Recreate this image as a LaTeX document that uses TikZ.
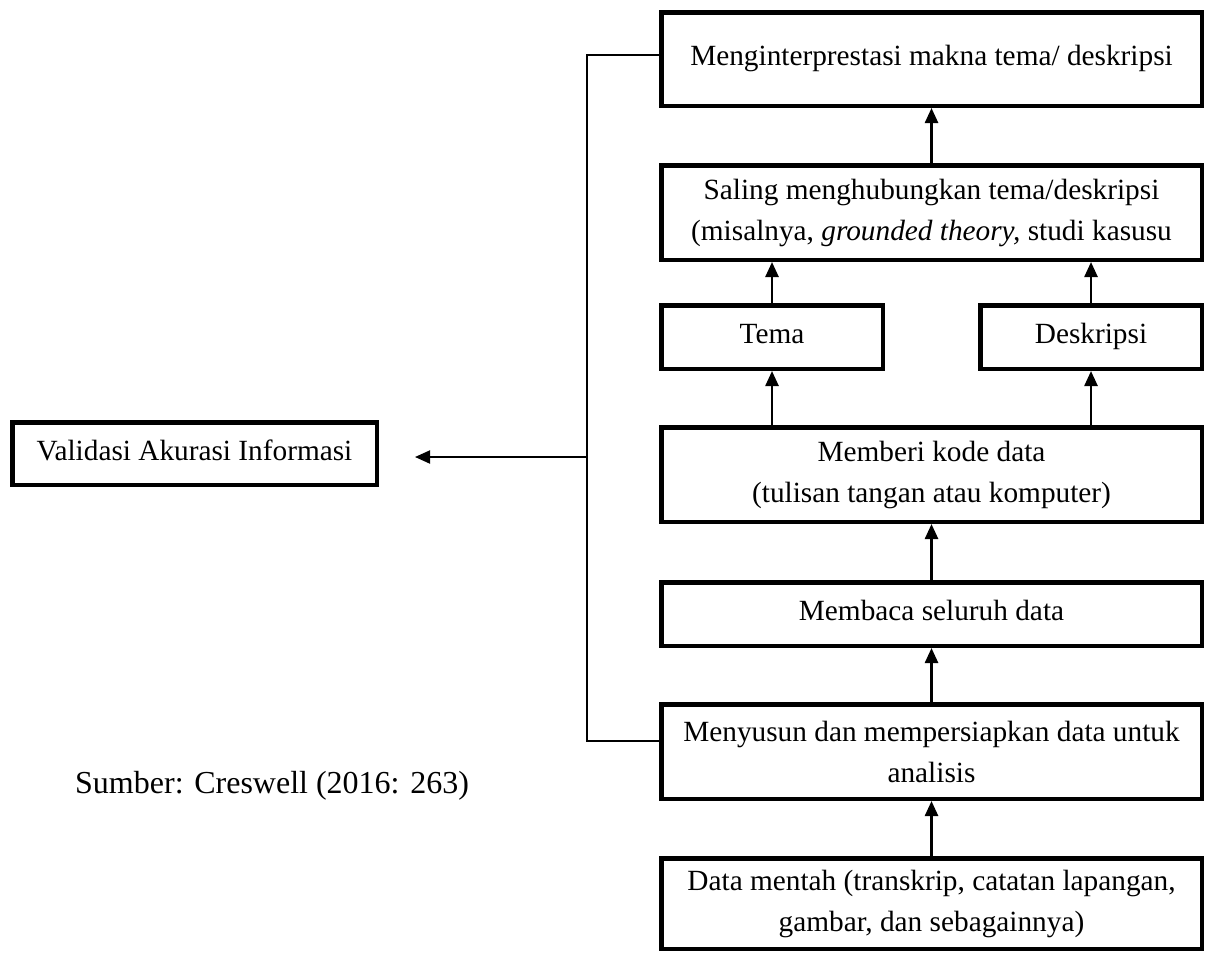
\documentclass[tikz,border=0pt]{standalone}
\usepackage{fontspec}
\setmainfont{Liberation Serif}
\usetikzlibrary{arrows.meta}
\tikzset{
  box/.style={draw, line width=4.5pt, inner sep=0pt, align=center,
    font=\fontsize{29.3}{41}\selectfont},
  oneline/.style={text height=20pt, text depth=7pt},
  arr/.style={line width=2.5pt, -{Triangle[length=15pt,width=13pt]}},
  fbline/.style={line width=1.6pt},
}
\begin{document}
\begin{tikzpicture}[x=1pt,y=-1pt]
\useasboundingbox (0,0) rectangle (1214,954);
\node[box, oneline, minimum width=540.5pt, minimum height=93.5pt] (top) at (931.5,59) {Menginterprestasi makna tema/ deskripsi};
\node[box, minimum width=540.5pt, minimum height=94.5pt] (rel) at (931.5,212.5) {Saling menghubungkan tema/deskripsi\\(misalnya, \textit{grounded theory,} studi kasusu};
\node[box, oneline, minimum width=221.5pt, minimum height=63.5pt] (tema) at (772,337) {Tema};
\node[box, oneline, minimum width=221.5pt, minimum height=63.5pt] (desk) at (1091,337) {Deskripsi};
\node[box, minimum width=540.5pt, minimum height=94.5pt] (kode) at (931.5,474.5) {Memberi kode data\\(tulisan tangan atau komputer)};
\node[box, oneline, minimum width=540.5pt, minimum height=63.5pt] (baca) at (931.5,614) {Membaca seluruh data};
\node[box, minimum width=540.5pt, minimum height=94.5pt] (susun) at (931.5,751.5) {Menyusun dan mempersiapkan data untuk\\analisis};
\node[box, minimum width=540.5pt, minimum height=90.5pt] (mentah) at (931.5,903.5) {Data mentah (transkrip, catatan lapangan,\\gambar, dan sebagainnya)};
\node[box, oneline, minimum width=364.5pt, minimum height=62.5pt] (valid) at (194.5,453.5) {Validasi Akurasi Informasi};
\node[anchor=west, inner sep=0pt, font=\fontsize{32}{41}\selectfont] (src) at (75,786) {Sumber: Creswell (2016: 263)};

% vertical flow
\draw[arr] (mentah.north) -- (susun.south);
\draw[arr] (susun.north) -- (baca.south);
\draw[arr] (baca.north) -- (kode.south);
\draw[arr] (kode.north -| tema.south) -- (tema.south);
\draw[arr] (kode.north -| desk.south) -- (desk.south);
\draw[arr] (tema.north) -- (tema.north |- rel.south);
\draw[arr] (desk.north) -- (desk.north |- rel.south);
\draw[arr] (rel.north) -- (top.south);

% feedback line
\coordinate (fbtop) at (587,55);
\coordinate (fbbot) at (587,741);
\coordinate (fbmid) at (587,457);
\coordinate (vtip) at (415,457);
\draw[fbline] ([yshift=4pt]top.west) -- (fbtop) -- (fbbot) -- ([yshift=10.5pt]susun.west);
\draw[arr, line width=2pt] (fbmid) -- (vtip);
\end{tikzpicture}
\end{document}
